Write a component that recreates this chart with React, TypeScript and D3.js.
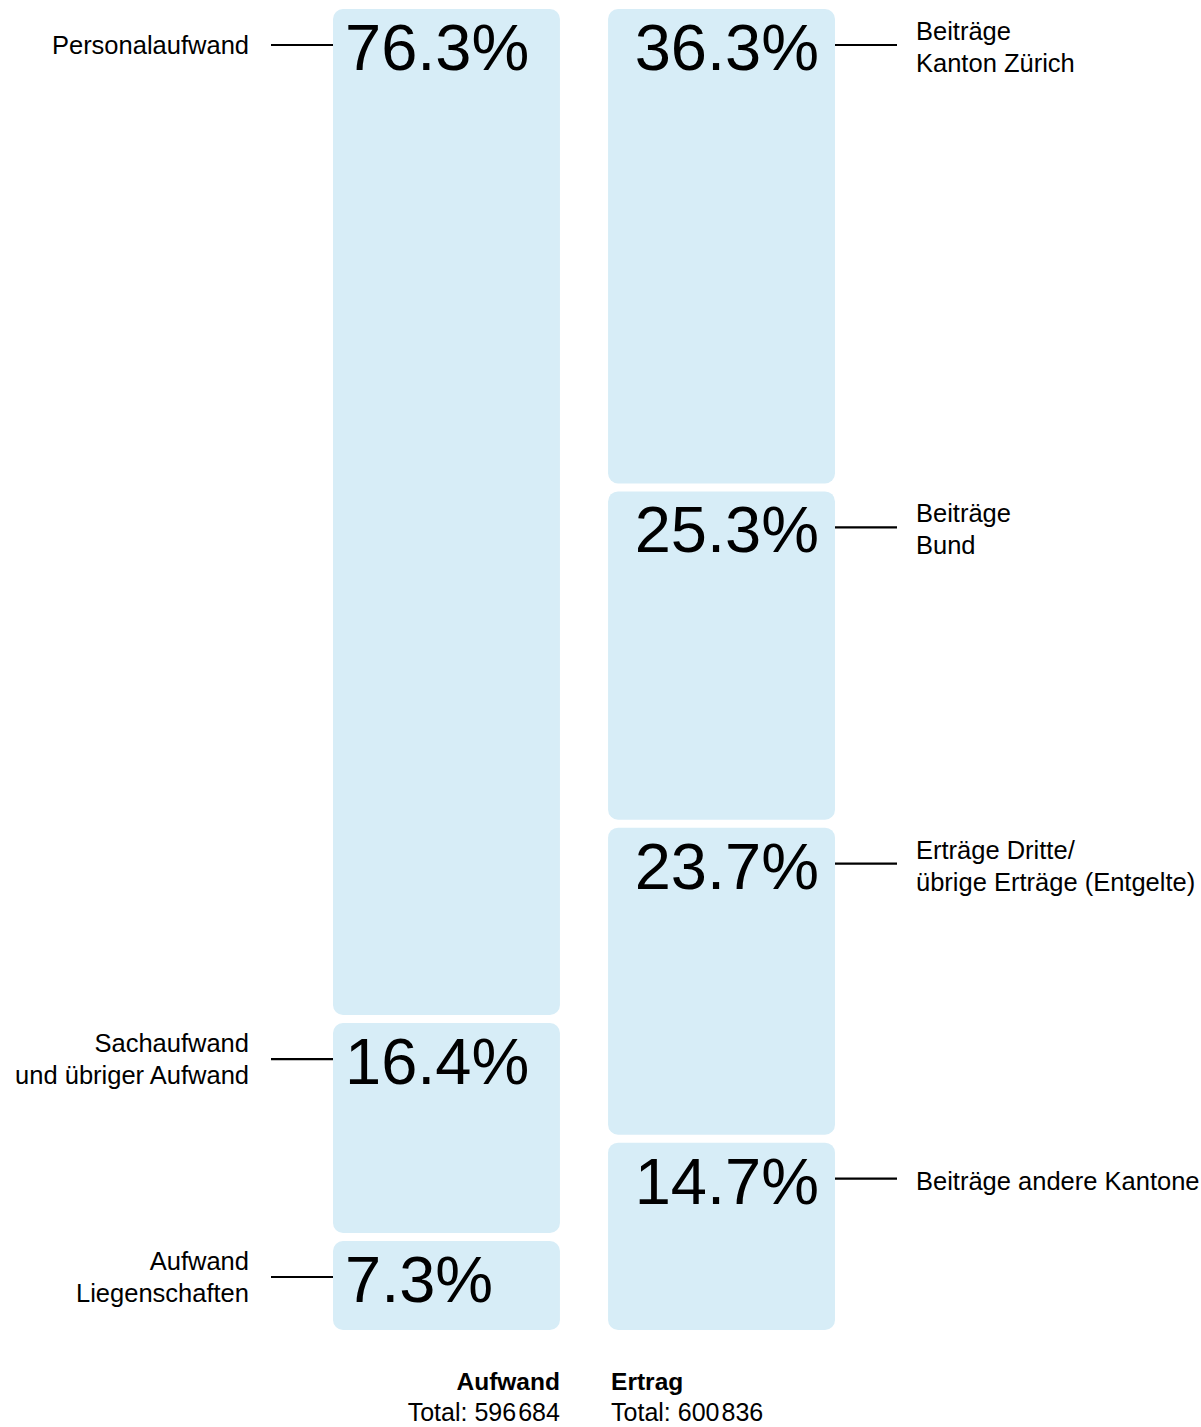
import React from 'react';
import * as d3 from 'd3';

// Aufwand (left column) and Ertrag (right column), shares in percent
const aufwandLabels = [['Personalaufwand'], ['Sachaufwand', 'und übriger Aufwand'], ['Aufwand', 'Liegenschaften']];
const aufwandValues = [76.3, 16.4, 7.3];

const ertragLabels = [
    ['Beiträge', 'Kanton Zürich'],
    ['Beiträge', 'Bund'],
    ['Erträge Dritte/', 'übrige Erträge (Entgelte)'],
    ['Beiträge andere Kantone'],
];
const ertragValues = [36.3, 25.3, 23.7, 14.7];

const columnTitles = ['Aufwand', 'Ertrag'];
const columnTotals = [596684, 600836];

const width = 1201;
const height = 1427;
const gap = 8;
const barColor = '#d7edf7';
const font = '"Liberation Sans", Arial, Helvetica, sans-serif';

const locale = d3.formatLocale({ decimal: '.', thousands: '\u200A', grouping: [3], currency: ['', ''] });
const fmtTotal = locale.format(',d');
const fmtPct = (v) => v.toFixed(1) + '%';

const xScale = d3.scaleBand()
    .domain(columnTitles)
    .range([333, 835])
    .paddingInner(0.175);

const yScale = d3.scaleLinear()
    .domain([0, 100])
    .range([9, 1338]);

const stack = (values) => {
    let cum = 0;
    return values.map((v, i) => {
        const start = cum;
        cum += v;
        return { i, value: v, y0: yScale(start), y1: yScale(cum) - gap };
    });
};

const Column = ({ name, values, labels, side }) => {
    const x = xScale(name);
    const bw = xScale.bandwidth();
    const segs = stack(values);
    const left = side === 'left';
    return (
        <g>
            {segs.map((s) => {
                const lineY = s.y0 + 36;
                const lines = labels[s.i];
                const x1 = left ? x - 62 : x + bw;
                const x2 = left ? x : x + bw + 62;
                const tx = left ? x - 84 : x + bw + 81;
                return (
                    <g key={s.i}>
                        <rect x={x} y={s.y0} width={bw} height={s.y1 - s.y0} rx={10} ry={10} fill={barColor} />
                        <text
                            x={left ? x + 12 : x + bw - 16}
                            y={s.y0 + 61}
                            textAnchor={left ? 'start' : 'end'}
                            fontSize={65}
                            fontFamily={font}
                            fill="#000"
                        >
                            {fmtPct(s.value)}
                        </text>
                        <line x1={x1} x2={x2} y1={lineY} y2={lineY} stroke="#000" strokeWidth={2.2} />
                        {lines.map((t, j) => (
                            <text
                                key={j}
                                x={tx}
                                y={lineY + (left ? 9 : 11) + (j - (lines.length - 1) / 2) * 32}
                                textAnchor={left ? 'end' : 'start'}
                                fontSize={25.5}
                                fontFamily={font}
                                fill="#000"
                            >
                                {t}
                            </text>
                        ))}
                    </g>
                );
            })}
            <text
                x={left ? x + bw : x + 3}
                y={1390}
                textAnchor={left ? 'end' : 'start'}
                fontSize={24.5}
                fontWeight="bold"
                fontFamily={font}
            >
                {name}
            </text>
            <text
                x={left ? x + bw : x + 3}
                y={1421}
                textAnchor={left ? 'end' : 'start'}
                fontSize={25}
                fontFamily={font}
            >
                {'Total: ' + fmtTotal(columnTotals[columnTitles.indexOf(name)])}
            </text>
        </g>
    );
};

const App = () => {
    return (
        <svg
            width={width}
            height={height}
            viewBox={`0 0 ${width} ${height}`}
            style={{ position: 'absolute', left: 0, top: 0, background: '#fff' }}
        >
            <Column name="Aufwand" values={aufwandValues} labels={aufwandLabels} side="left" />
            <Column name="Ertrag" values={ertragValues} labels={ertragLabels} side="right" />
        </svg>
    );
};

export default App;
